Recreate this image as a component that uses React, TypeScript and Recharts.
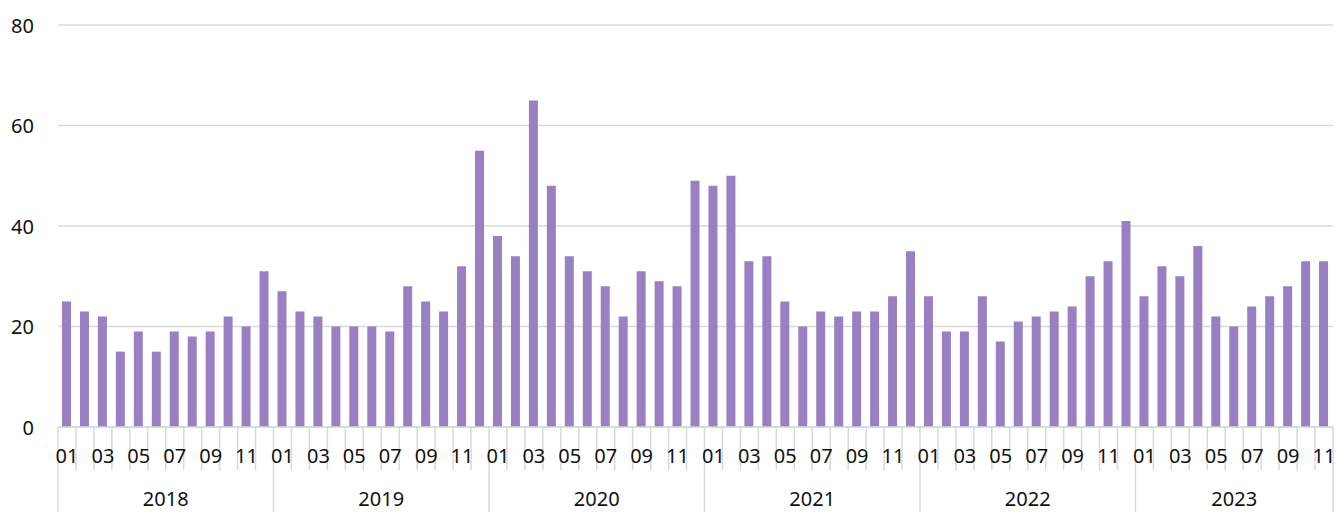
import React from "react";
import { BarChart, Bar, XAxis, YAxis, CartesianGrid } from "recharts";

const years = ["2018", "2019", "2020", "2021", "2022", "2023"];
const monthLabels = ["01", "02", "03", "04", "05", "06", "07", "08", "09", "10", "11", "12"];

const values2018 = [25, 23, 22, 15, 19, 15, 19, 18, 19, 22, 20, 31];
const values2019 = [27, 23, 22, 20, 20, 20, 19, 28, 25, 23, 32, 55];
const values2020 = [38, 34, 65, 48, 34, 31, 28, 22, 31, 29, 28, 49];
const values2021 = [48, 50, 33, 34, 25, 20, 23, 22, 23, 23, 26, 35];
const values2022 = [26, 19, 19, 26, 17, 21, 22, 23, 24, 30, 33, 41];
const values2023 = [26, 32, 30, 36, 22, 20, 24, 26, 28, 33, 33];

const yTicks = [0, 20, 40, 60, 80];

const valuesByYear = [values2018, values2019, values2020, values2021, values2022, values2023];

const data = valuesByYear.flatMap((vals, yi) =>
  vals.map((v, mi) => ({
    period: `${years[yi]}-${monthLabels[mi]}`,
    yr: years[yi],
    mon: mi + 1,
    count: vals.length,
    amount: v,
  }))
);

const W = 1336;
const H = 512;
const LEFT = 58;
const RIGHT = 3;
const TOP = 25;
const XAXIS_H = 85;
const AXIS_Y = H - XAXIS_H;
const STEP = (W - LEFT - RIGHT) / data.length;
const FONT = "'Noto Sans', sans-serif";
const LINE = "#d9d9d9";
const FS = 20;

// odd months carry a label and draw both of their separators first,
// so no later tick paints a line over the text
const MonthTick = (props: any) => {
  const { x, payload, index } = props;
  const d = data.find((r) => r.period === payload.value) || data[index];
  if (!d) return null;
  const left = x - STEP / 2;
  const right = x + STEP / 2;
  const isLast = index === data.length - 1 || (d.yr === years[years.length - 1] && d.mon === d.count);
  return (
    <g>
      {d.mon % 2 === 1 && (
        <>
          <line x1={left} x2={left} y1={AXIS_Y} y2={d.mon === 1 ? H : 470} stroke={LINE} strokeWidth={1.5} />
          <line x1={right} x2={right} y1={AXIS_Y} y2={isLast ? H : 470} stroke={LINE} strokeWidth={1.5} />
          <text x={x} y={455} textAnchor="middle" dominantBaseline="central" fontSize={FS} fontFamily={FONT} fill="#111">
            {monthLabels[d.mon - 1]}
          </text>
        </>
      )}
      {d.mon === 1 && (
        <text
          x={left + (d.count * STEP) / 2}
          y={498}
          textAnchor="middle"
          dominantBaseline="central"
          fontSize={FS}
          fontFamily={FONT}
          fill="#111"
        >
          {d.yr}
        </text>
      )}
    </g>
  );
};

const ValueTick = (props: any) => {
  const { y, payload } = props;
  return (
    <text x={34} y={y} textAnchor="end" dominantBaseline="central" fontSize={FS} fontFamily={FONT} fill="#111">
      {payload.value}
    </text>
  );
};

export default function App() {
  return (
    <div style={{ position: "absolute", left: 0, top: 0, width: W, height: H, background: "#fff" }}>
      <BarChart width={W} height={H} data={data} margin={{ top: TOP, right: RIGHT, left: 0, bottom: 0 }}>
        <CartesianGrid vertical={false} stroke={LINE} strokeWidth={1.5} />
        <XAxis
          dataKey="period"
          interval={0}
          height={XAXIS_H}
          tickLine={false}
          axisLine={{ stroke: LINE, strokeWidth: 1.5 }}
          tick={<MonthTick />}
        />
        <YAxis
          domain={[0, 80]}
          ticks={yTicks}
          width={LEFT}
          axisLine={false}
          tickLine={false}
          tick={<ValueTick />}
        />
        <Bar dataKey="amount" fill="#9880c2" barSize={9} isAnimationActive={false} />
      </BarChart>
    </div>
  );
}
